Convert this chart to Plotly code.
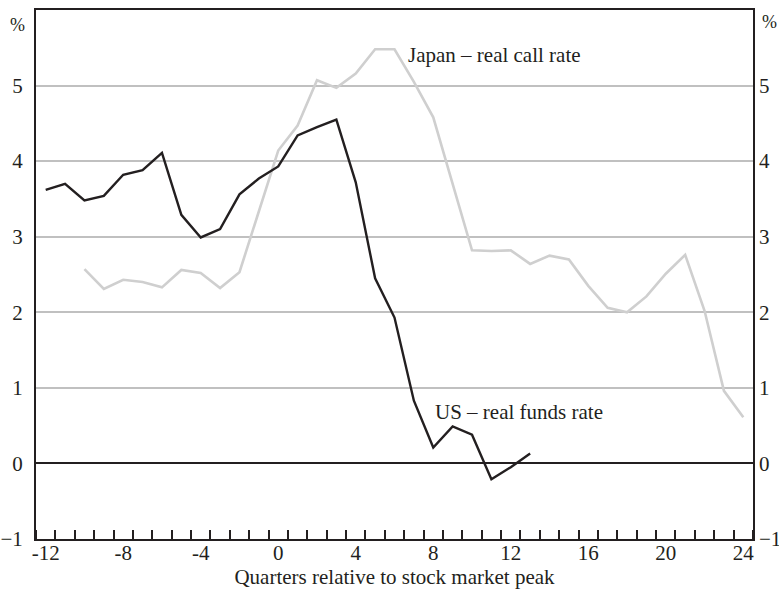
import plotly.graph_objects as go

# Data
us_quarters = list(range(-12, 14))
us_rate = [3.62, 3.70, 3.48, 3.54, 3.82, 3.88, 4.11, 3.29, 2.99, 3.10, 3.56, 3.77, 3.93,
           4.34, 4.45, 4.55, 3.72, 2.45, 1.93, 0.83, 0.21, 0.49, 0.38, -0.21, -0.05, 0.13]

japan_quarters = list(range(-10, 25))
japan_rate = [2.57, 2.31, 2.43, 2.40, 2.33, 2.56, 2.52, 2.32, 2.53, 3.33, 4.14,
              4.47, 5.07, 4.97, 5.16, 5.48, 5.48, 5.05, 4.58, 3.70, 2.82, 2.81,
              2.82, 2.64, 2.75, 2.70, 2.35, 2.06, 2.00, 2.21, 2.51, 2.76, 2.02, 0.96, 0.61]

x_tick_vals = list(range(-12, 25, 4))
y_tick_vals = [-1, 0, 1, 2, 3, 4, 5]

FONT = "Liberation Serif"
INK = "#231f20"
FS = 21

fig = go.Figure()
fig.add_trace(go.Scatter(x=japan_quarters, y=japan_rate, mode="lines",
                         line=dict(color="#cfcfcf", width=2.6), showlegend=False))
fig.add_trace(go.Scatter(x=us_quarters, y=us_rate, mode="lines",
                         line=dict(color=INK, width=2.4), showlegend=False))
# invisible trace for right axis
fig.add_trace(go.Scatter(x=[0], y=[0], yaxis="y2", mode="markers",
                         marker=dict(opacity=0), showlegend=False, hoverinfo="skip"))

fig.update_layout(
    width=779, height=593,
    margin=dict(l=36, r=26, t=10, b=54),
    paper_bgcolor="white", plot_bgcolor="white",
    font=dict(family=FONT, size=FS, color=INK),
    xaxis=dict(range=[-12.5, 24.5], tickvals=x_tick_vals,
               ticktext=[str(v) for v in x_tick_vals], ticks="",
               showgrid=False, zeroline=False, automargin=False,
               showline=True, linecolor=INK, linewidth=2, mirror=True,
               minor=dict(ticks="inside", tick0=-11.5, dtick=1, ticklen=9,
                          tickcolor=INK, tickwidth=1.5, showgrid=False),
               title=dict(text="Quarters relative to stock market peak",
                          font=dict(size=FS), standoff=4),
               ticklabelstandoff=-6),
    yaxis=dict(range=[-1, 6], tickvals=y_tick_vals, ticks="", automargin=False,
               showgrid=True, gridcolor="#c0c0c0", gridwidth=1.5,
               zeroline=True, zerolinecolor=INK, zerolinewidth=1.5,
               showline=True, linecolor=INK, linewidth=2, mirror=True,
               ticklabelstandoff=7),
    yaxis2=dict(range=[-1, 6], tickvals=y_tick_vals, ticks="", overlaying="y",
                side="right", showgrid=False, zeroline=False, showline=False,
                automargin=False, ticklabelstandoff=5),
    annotations=[
        dict(text="%", xref="paper", yref="paper", x=0, y=0.972, xanchor="right",
             yanchor="middle", xshift=-9, showarrow=False,
             font=dict(size=FS - 3, family=FONT)),
        dict(text="%", xref="paper", yref="paper", x=1, y=0.978, xanchor="left",
             yanchor="middle", xshift=7, showarrow=False,
             font=dict(size=FS - 3, family=FONT)),
        dict(text="Japan – real call rate", x=6.6, y=5.40, xanchor="left",
             showarrow=False, font=dict(size=FS, family=FONT)),
        dict(text="US – real funds rate", x=8.0, y=0.68, xanchor="left",
             showarrow=False, font=dict(size=FS, family=FONT)),
    ],
)

fig.write_html("out.html", config={"displayModeBar": False},
               post_script="document.body.style.margin='0';document.body.style.overflow='hidden';")
